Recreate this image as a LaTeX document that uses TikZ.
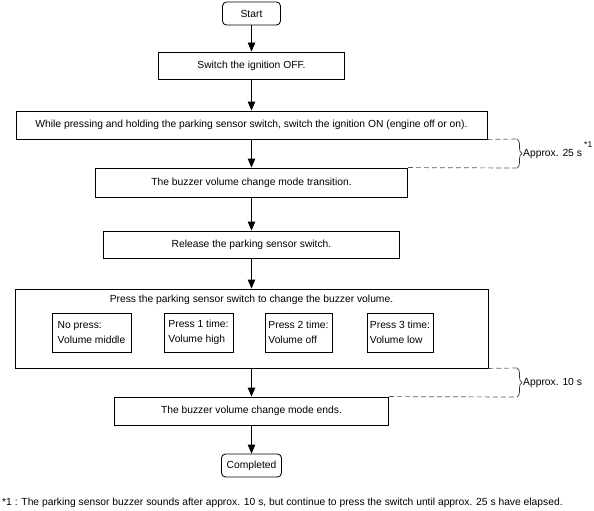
\documentclass[tikz,border=0pt]{standalone}
\usepackage{fontspec}
\setmainfont{Liberation Sans}
\usetikzlibrary{arrows.meta,decorations.pathreplacing}
\begin{document}
\begin{tikzpicture}[x=1pt,y=-1pt,
  every node/.style={font=\fontsize{10.3}{14.5}\selectfont, inner sep=0pt},
  box/.style={draw, line width=0.85pt, rectangle},
  term/.style={draw, line width=0.85pt, rounded corners=4pt},
  sub/.style={draw, line width=0.85pt, align=left, minimum height=39pt},
  flow/.style={-{Triangle[length=9pt,width=7.5pt]}, line width=0.85pt},
  dashline/.style={dash pattern=on 5pt off 3pt, line width=0.7pt, black!65},
  bracestyle/.style={decorate, decoration={brace, amplitude=5pt}, line width=0.7pt, black!80}
]
\useasboundingbox (0,0) rectangle (594,511);

\node[term, minimum width=58pt, minimum height=23pt] (start) at (251.5,13.5) {Start};
\node[box, minimum width=186pt, minimum height=27pt] (off) at (251.5,65.5) {Switch the ignition OFF.};
\node[box, minimum width=471pt, minimum height=28pt] (while) at (251.5,125) {While pressing and holding the parking sensor switch, switch the ignition ON (engine off or on).};
\node[box, minimum width=312pt, minimum height=29pt] (trans) at (251.5,182.5) {The buzzer volume change mode transition.};
\node[box, minimum width=296pt, minimum height=27pt] (rel) at (251.5,244.5) {Release the parking sensor switch.};
\node[box, minimum width=473pt, minimum height=79pt] (big) at (251.5,328.5) {};
\node (hdr) at (251.5,300) {Press the parking sensor switch to change the buzzer volume.};
\node[sub, minimum width=79pt] (s1) at (91.5,332.5) {No press:\\Volume middle};
\node[sub, minimum width=69pt] (s2) at (198.5,332.5) {Press 1 time:\\Volume high};
\node[sub, minimum width=67pt] (s3) at (298.5,332.5) {Press 2 time:\\Volume off};
\node[sub, minimum width=66pt] (s4) at (400,332.5) {Press 3 time:\\Volume low};
\node[box, minimum width=274pt, minimum height=28pt] (ends) at (251.5,411) {The buzzer volume change mode ends.};
\node[term, minimum width=60pt, minimum height=23pt] (done) at (251.5,465.5) {Completed};

\draw[flow] (start) -- (off);
\draw[flow] (off) -- (while);
\draw[flow] (while) -- (trans);
\draw[flow] (trans) -- (rel);
\draw[flow] (rel) -- (big);
\draw[flow] (big) -- (ends);
\draw[flow] (ends) -- (done);

% brace 1
\coordinate (b1t) at (517,139);
\coordinate (b1b) at (517,168);
\draw[dashline] (while.south east) -- (b1t);
\draw[dashline] (trans.north east) -- (b1b);
\draw[bracestyle] (b1t) -- (b1b);
\node[anchor=west] (a25) at (523,153.5) {Approx. 25 s};
\node[anchor=west, font=\fontsize{8.5}{10}\selectfont] (n1) at (584,145) {*1};

% brace 2
\coordinate (b2t) at (517,368);
\coordinate (b2b) at (517,397);
\draw[dashline] (big.south east) -- (b2t);
\draw[dashline] (ends.north east) -- (b2b);
\draw[bracestyle] (b2t) -- (b2b);
\node[anchor=west] (a10) at (523,382.5) {Approx. 10 s};

\node[anchor=west] (foot) at (2,503) {*1 : The parking sensor buzzer sounds after approx. 10 s, but continue to press the switch until approx. 25 s have elapsed.};
\end{tikzpicture}
\end{document}
